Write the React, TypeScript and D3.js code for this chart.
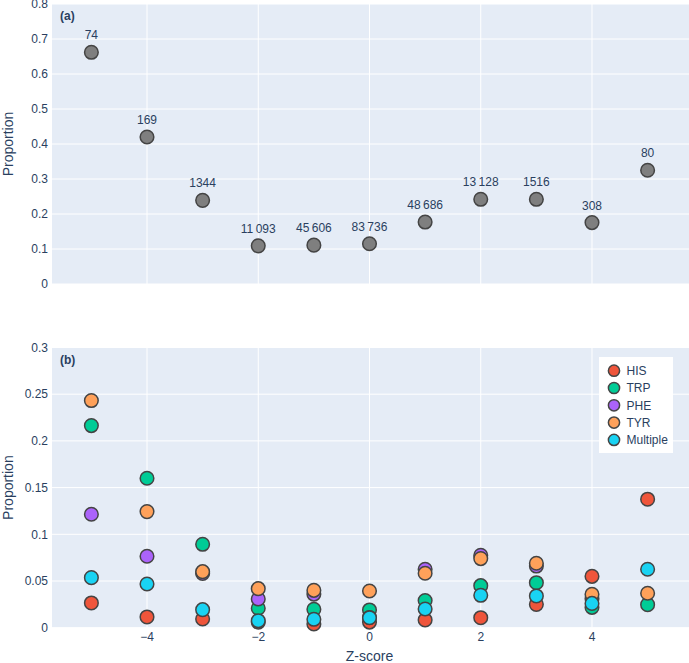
import React from "react";
import * as d3 from "d3";

const zScores = [-5, -4, -3, -2, -1, 0, 1, 2, 3, 4, 5];
const totalProportion = [0.662, 0.42, 0.239, 0.109, 0.111, 0.115, 0.177, 0.242, 0.242, 0.1755, 0.325];
const totalCounts = [74, 169, 1344, 11093, 45606, 83736, 48686, 13128, 1516, 308, 80];

const seriesNames = ["HIS", "TRP", "PHE", "TYR", "Multiple"];
const seriesColors = ["#EF553B", "#00CC96", "#AB63FA", "#FFA15A", "#19D3F3"];
const hisValues = [0.0265, 0.0115, 0.0093, 0.006, 0.004, 0.006, 0.0083, 0.0107, 0.025, 0.055, 0.1376];
const trpValues = [0.2164, 0.16, 0.0893, 0.0208, 0.0197, 0.019, 0.029, 0.045, 0.0482, 0.0218, 0.0247];
const pheValues = [0.1215, 0.0765, 0.058, 0.0307, 0.036, 0.011, 0.0626, 0.0776, 0.066, 0.031, null];
const tyrValues = [0.2432, 0.1243, 0.06, 0.0418, 0.04, 0.0393, 0.0583, 0.074, 0.069, 0.0358, 0.0369];
const multipleValues = [0.0536, 0.0468, 0.0193, 0.0075, 0.009, 0.0107, 0.02, 0.0347, 0.034, 0.026, 0.0626];

const topYTicks = [0, 0.1, 0.2, 0.3, 0.4, 0.5, 0.6, 0.7, 0.8];
const bottomYTicks = [0, 0.05, 0.1, 0.15, 0.2, 0.25, 0.3];
const xTicks = [-4, -2, 0, 2, 4];

const FONT = "'Liberation Sans', Arial, sans-serif";
const TXT = "#2a3f5f";
const BG = "#E5ECF6";

function fmtCount(n: number): string {
  if (n >= 10000) {
    const s = String(n);
    return s.slice(0, s.length - 3) + "\u2009" + s.slice(s.length - 3);
  }
  return String(n);
}

export default function App() {
  const W = 689, H = 663;
  const x = d3.scaleLinear().domain([-5.708, 5.744]).range([52, 689]);
  const yTop = d3.scaleLinear().domain([0, 0.8]).range([284, 4]);
  const yBot = d3.scaleLinear().domain([0, 0.3]).range([627.7, 347.5]);
  const r = 6.8;
  const series = [hisValues, trpValues, pheValues, tyrValues, multipleValues];

  const panel = (y: d3.ScaleLinear<number, number>, ticks: number[], label: string, fmt: (v: number) => string) => {
    const [y0, y1] = y.range();
    return (
      <g>
        <rect x={52} y={y1} width={689 - 52} height={y0 - y1} fill={BG} />
        {xTicks.map((t) => (
          <line key={"vx" + t} x1={x(t)} x2={x(t)} y1={y1} y2={y0} stroke="#fff" strokeWidth={1} />
        ))}
        {ticks.map((t) => (
          <line key={"hy" + t} x1={52} x2={689} y1={y(t)} y2={y(t)} stroke="#fff" strokeWidth={1} />
        ))}
        {ticks.map((t) => (
          <text key={"ty" + t} x={48} y={y(t)} dy="0.35em" textAnchor="end" fontSize={12} fill={TXT} fontFamily={FONT}>
            {fmt(t)}
          </text>
        ))}
        <text x={60} y={y1 + 16} fontSize={12} fontWeight="bold" fill={TXT} fontFamily={FONT}>
          {label}
        </text>
        <text
          transform={`translate(13,${(y0 + y1) / 2}) rotate(-90)`}
          textAnchor="middle"
          fontSize={14}
          fill={TXT}
          fontFamily={FONT}
        >
          Proportion
        </text>
      </g>
    );
  };

  const fmtTop = (v: number) => (v === 0 ? "0" : d3.format(".1f")(v));
  const fmtBot = (v: number) => (v === 0 ? "0" : String(+v.toFixed(2)));

  return (
    <svg width={W} height={H} style={{ position: "absolute", left: 0, top: 0, background: "#fff" }}>
      {panel(yTop, topYTicks, "(a)", fmtTop)}
      {panel(yBot, bottomYTicks, "(b)", fmtBot)}

      {zScores.map((z, i) => (
        <g key={"top" + z}>
          <circle cx={x(z)} cy={yTop(totalProportion[i])} r={r} fill="#7f7f7f" stroke="#444" strokeWidth={1.5} />
          <text
            x={x(z)}
            y={yTop(totalProportion[i]) - 13}
            textAnchor="middle"
            fontSize={12}
            fill={TXT}
            fontFamily={FONT}
          >
            {fmtCount(totalCounts[i])}
          </text>
        </g>
      ))}

      {series.map((vals, si) => (
        <g key={"s" + si}>
          {zScores.map((z, i) =>
            vals[i] == null ? null : (
              <circle
                key={z}
                cx={x(z)}
                cy={yBot(vals[i] as number)}
                r={r}
                fill={seriesColors[si]}
                stroke="#444"
                strokeWidth={1.5}
              />
            )
          )}
        </g>
      ))}

      {xTicks.map((t) => (
        <text key={"tx" + t} x={x(t)} y={641} textAnchor="middle" fontSize={12} fill={TXT} fontFamily={FONT}>
          {t < 0 ? "\u2212" + Math.abs(t) : String(t)}
        </text>
      ))}
      <text x={x(0)} y={661} textAnchor="middle" fontSize={14} fill={TXT} fontFamily={FONT}>
        Z-score
      </text>

      <g>
        <rect x={599} y={357} width={74} height={96} fill="#fff" />
        {seriesNames.map((n, i) => (
          <g key={n}>
            <circle cx={614} cy={370.7 + i * 17.3} r={5.6} fill={seriesColors[i]} stroke="#444" strokeWidth={1.5} />
            <text x={626.5} y={370.7 + i * 17.3} dy="0.35em" fontSize={12} fill={TXT} fontFamily={FONT}>
              {n}
            </text>
          </g>
        ))}
      </g>
    </svg>
  );
}
